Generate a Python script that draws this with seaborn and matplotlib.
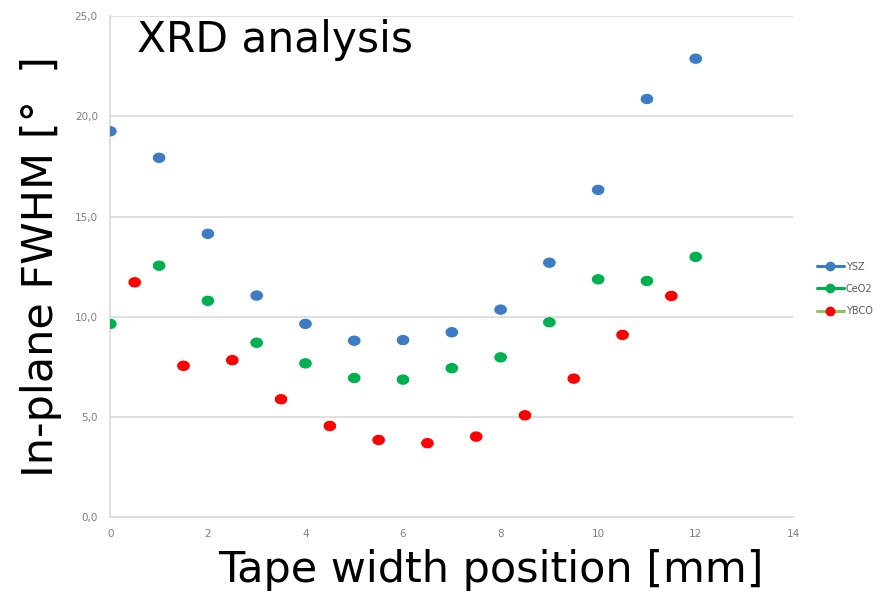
import numpy as np
import pandas as pd
import matplotlib
matplotlib.use("Agg")
import matplotlib.pyplot as plt
from matplotlib.path import Path
from matplotlib.lines import Line2D
import seaborn as sns

# Measured in-plane FWHM values across the tape width
pos_ysz = [0, 1, 2, 3, 4, 5, 6, 7, 8, 9, 10, 11, 12]
fwhm_ysz = [19.25, 17.93, 14.14, 11.06, 9.65, 8.81, 8.84, 9.23, 10.36, 12.70, 16.33, 20.86, 22.87]

pos_ceo2 = [0, 1, 2, 3, 4, 5, 6, 7, 8, 9, 10, 11, 12]
fwhm_ceo2 = [9.65, 12.55, 10.80, 8.71, 7.68, 6.95, 6.87, 7.44, 7.98, 9.73, 11.87, 11.79, 12.99]

pos_ybco = [0.5, 1.5, 2.5, 3.5, 4.5, 5.5, 6.5, 7.5, 8.5, 9.5, 10.5, 11.5]
fwhm_ybco = [11.72, 7.56, 7.84, 5.89, 4.56, 3.86, 3.70, 4.03, 5.09, 6.92, 9.10, 11.04]

series_names = ["YSZ", "CeO2", "YBCO"]
x_ticks = [0, 2, 4, 6, 8, 10, 12, 14]
y_ticks = [0, 5, 10, 15, 20, 25]

marker_colors = {"YSZ": "#3d7cc2", "CeO2": "#00b050", "YBCO": "#ff0000"}
line_colors = {"YSZ": "#3d7cc2", "CeO2": "#00b050", "YBCO": "#92c05a"}

df = pd.concat([
    pd.DataFrame({"pos": pos_ysz, "fwhm": fwhm_ysz, "layer": "YSZ"}),
    pd.DataFrame({"pos": pos_ceo2, "fwhm": fwhm_ceo2, "layer": "CeO2"}),
    pd.DataFrame({"pos": pos_ybco, "fwhm": fwhm_ybco, "layer": "YBCO"}),
], ignore_index=True)

sns.set_theme(style="white")
plt.rcParams["font.family"] = ["DejaVu Sans"]

fig = plt.figure(figsize=(8.79, 5.92), dpi=100)
ax = fig.add_axes([0.1255, 0.126, 0.777, 0.847])

# slightly wide elliptical marker
t = np.linspace(0, 2 * np.pi, 60)
ellipse = Path(np.column_stack([1.2 * np.cos(t), np.sin(t)]), closed=True)

sns.scatterplot(data=df, x="pos", y="fwhm", hue="layer", hue_order=series_names,
                palette=marker_colors, marker=ellipse, s=95, linewidth=0.6,
                edgecolor="#ffffff", legend=False, ax=ax, zorder=3)

ax.set_xlim(0, 14)
ax.set_ylim(0, 25)
ax.set_xticks(x_ticks)
ax.set_yticks(y_ticks)
ax.set_xticklabels([str(v) for v in x_ticks])
ax.set_yticklabels([f"{v:.1f}".replace(".", ",") for v in y_ticks])
ax.tick_params(axis="both", labelsize=7.5, colors="#7f7f7f", length=0)
ax.tick_params(axis="x", pad=8)
ax.tick_params(axis="y", pad=9)
ax.yaxis.grid(True, color="#d9d9d9", linewidth=1.2)
ax.xaxis.grid(False)
for side in ["top", "right"]:
    ax.spines[side].set_visible(False)
for side in ["left", "bottom"]:
    ax.spines[side].set_color("#d9d9d9")
    ax.spines[side].set_linewidth(1.2)
ax.set_xlabel("")
ax.set_ylabel("")

# Title inside the plot area and big axis labels
fig.text(0.156, 0.932, "XRD analysis", fontsize=30.5, color="black",
         ha="left", va="center")
fig.text(0.558, 0.037, "Tape width position [mm]", fontsize=31, color="black",
         ha="center", va="center")
fig.text(0.047, 0.55, "In-plane FWHM [°  ]", fontsize=31, color="black",
         ha="center", va="center", rotation=90)

handles = [Line2D([0], [0], color=line_colors[n], linewidth=2.2, marker="o",
                  markersize=6, markerfacecolor=marker_colors[n],
                  markeredgecolor=marker_colors[n]) for n in series_names]
fig.legend(handles, series_names, loc="upper left",
           bbox_to_anchor=(0.929, 0.558), frameon=False, fontsize=7,
           labelcolor="#595959", handlelength=2.8, handletextpad=0.2,
           labelspacing=1.25, borderpad=0, borderaxespad=0)

fig.savefig("out.png", dpi=100)
